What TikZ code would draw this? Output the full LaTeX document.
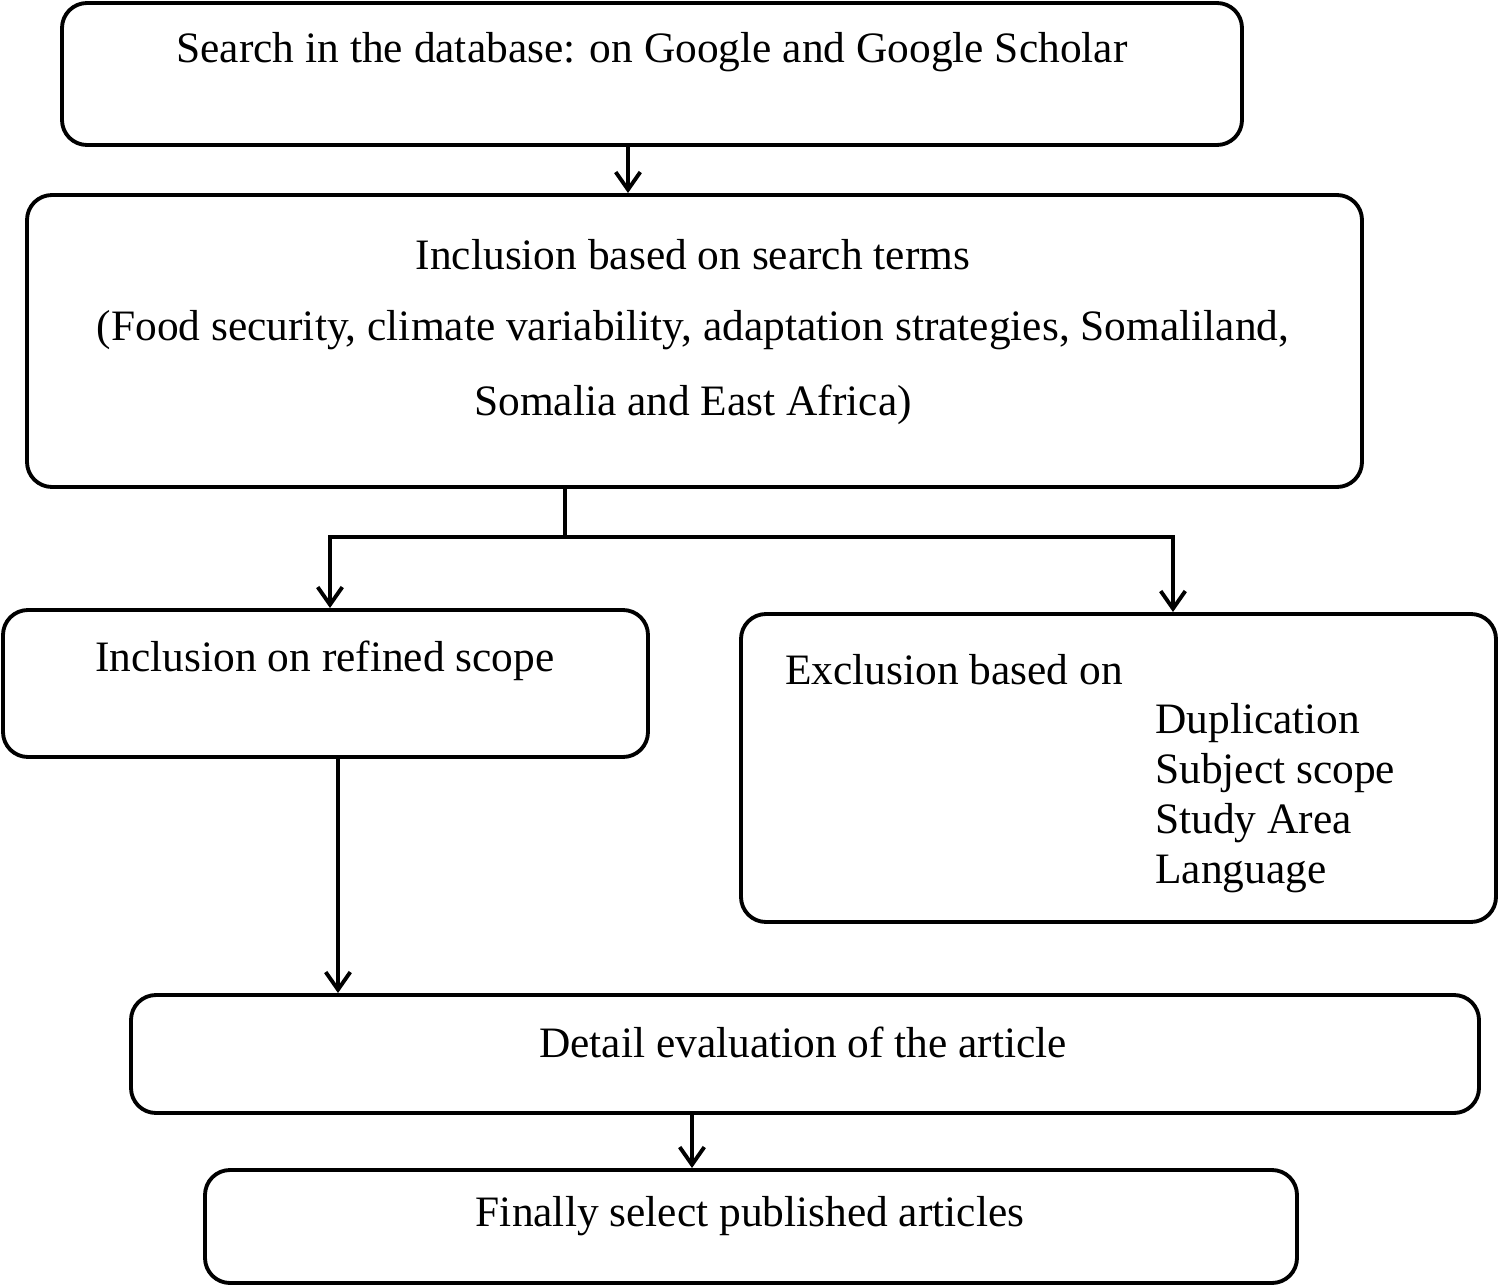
\documentclass[tikz,border=0pt]{standalone}
\usepackage{fontspec}
\setmainfont{Liberation Serif}
\usetikzlibrary{arrows.meta}
\begin{document}
\begin{tikzpicture}[x=0.02cm,y=-0.02cm,
  box/.style={draw,line width=2.2pt,rounded corners=0.5cm},
  txt/.style={font=\fontsize{24.7}{28.5}\selectfont,inner sep=0pt},
  arr/.style={line width=2.2pt,-{Straight Barb[length=10pt,width=14pt,line width=2.2pt]}}]
\useasboundingbox (0,0) rectangle (1499,1288);
\draw[box] (62,3) rectangle (1242,145); \coordinate (b1) at (628,145);
\node[txt] (t1) at (652,52) {Search in the database: on Google and Google Scholar};
\draw[box] (27,195) rectangle (1362,487); \coordinate (b2t) at (628,193); \coordinate (b2b) at (565,487);
\node[txt] (t2a) at (693,255) {Inclusion based on search terms};
\node[txt] (t2b) at (693,330) {(Food security, climate variability, adaptation strategies, Somaliland,};
\node[txt] (t2c) at (693,405) {Somalia and East Africa)};
\draw[box] (3,610) rectangle (648,757); \coordinate (b3t) at (330,608); \coordinate (b3b) at (338,757);
\node[txt] (t3) at (325,661) {Inclusion on refined scope};
\draw[box] (741,614) rectangle (1496,922); \coordinate (b4t) at (1173,612);
\node[txt,anchor=west] (t4) at (785,670) {Exclusion based on};
\node[txt,anchor=north west,align=left] (t4b) at (1155,703) {Duplication\\Subject scope\\Study Area\\Language};
\draw[box] (131,995) rectangle (1479,1113); \coordinate (b5t) at (338,993); \coordinate (b5b) at (692,1113);
\node[txt] (t5) at (803,1042) {Detail evaluation of the article};
\draw[box] (205,1170) rectangle (1297,1283); \coordinate (b6t) at (692,1168);
\node[txt] (t6) at (750,1216) {Finally select published articles};
\coordinate (j) at (565,537); \coordinate (jl) at (330,537); \coordinate (jr) at (1173,537);
\draw[arr] (b1) -- (b2t);
\draw[line width=2.2pt] (b2b) -- (j);
\draw[arr] (j) -- (jl) -- (b3t);
\draw[arr] (j) -- (jr) -- (b4t);
\draw[arr] (b3b) -- (b5t);
\draw[arr] (b5b) -- (b6t);
\end{tikzpicture}
\end{document}
